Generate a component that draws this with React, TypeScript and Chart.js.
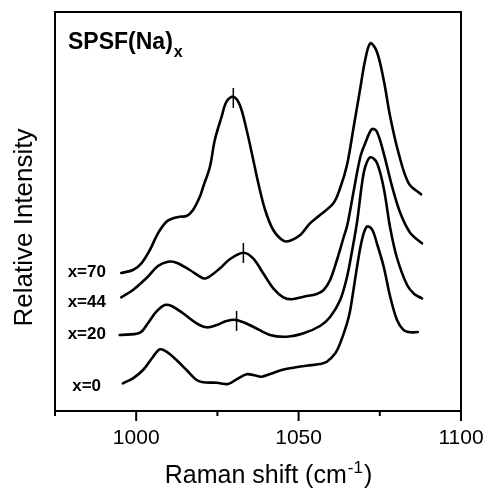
import { useEffect, useRef } from "react";
import { Chart, registerables } from "chart.js";

Chart.register(...registerables);

const FONT = '"Liberation Sans", Arial, Helvetica, sans-serif';

// x axis ticks (Raman shift, cm-1)
const xTicks = [975, 1000, 1025, 1050, 1075, 1100];
const labeledTicks = [1000, 1050, 1100];

// series x=0
const shift0 = [995.9, 999.0, 1002.1, 1005.2, 1007.3, 1009.3, 1012.4, 1015.5, 1018.6, 1020.6, 1024.8, 1028.3, 1030.9, 1034.0, 1036.0, 1038.6, 1041.2, 1044.8, 1048.4, 1052.5, 1056.6, 1058.7, 1061.3, 1062.8, 1064.9, 1065.9, 1068.0, 1069.5, 1071.0, 1072.6, 1074.1, 1076.2, 1078.2, 1080.3, 1082.3, 1084.4, 1086.7];
const int0 = [27.7, 32.7, 41, 54.3, 61.7, 59.3, 51, 41, 31, 28.7, 28.3, 27, 31.7, 36.7, 36, 34.3, 37, 41, 43.3, 45.3, 47, 49.3, 57.7, 67.7, 87.7, 101, 144.3, 171, 184.3, 181.7, 167.7, 144.3, 114.3, 91, 81, 78.7, 79];

// series x=20
const shift20 = [994.9, 1001.1, 1003.6, 1006.2, 1008.8, 1010.9, 1014.4, 1018.6, 1021.7, 1024.8, 1027.8, 1030.9, 1036.0, 1041.2, 1046.4, 1051.5, 1056.6, 1059.7, 1062.8, 1064.9, 1066.4, 1068.0, 1069.5, 1070.5, 1072.1, 1074.1, 1076.2, 1078.2, 1080.3, 1083.4, 1085.6, 1088.0];
const int20 = [76, 78.3, 87.7, 99.3, 106, 105, 97.7, 87.7, 83.7, 86, 90, 91, 84.3, 76, 74.3, 77.7, 85, 94, 111, 134, 159, 189, 227, 244, 253.7, 248.3, 223, 183, 153, 126, 117, 112.7];

// series x=44
const shift44 = [995.4, 999.0, 1003.1, 1006.7, 1009.8, 1012.4, 1016.5, 1020.6, 1022.2, 1025.8, 1028.9, 1033.0, 1036.0, 1039.1, 1042.2, 1045.3, 1047.9, 1051.5, 1055.6, 1057.7, 1059.7, 1061.8, 1063.8, 1065.0, 1066.9, 1069.0, 1070.5, 1072.6, 1074.1, 1076.2, 1078.8, 1081.3, 1084.4, 1088.0];
const int44 = [113.7, 121, 132.7, 145, 149.3, 148.3, 141, 132.7, 133.7, 142.7, 152, 158.3, 152.7, 137.7, 122.7, 113.7, 111.7, 114.3, 117, 121, 131, 151, 173, 186, 219, 254, 267.7, 282, 279.3, 257.7, 224.3, 198, 178, 167.7];

// series x=70
const shift70 = [995.4, 999.0, 1001.6, 1004.2, 1006.7, 1009.3, 1011.4, 1013.4, 1015.5, 1017.5, 1019.6, 1020.6, 1022.7, 1024.2, 1026.3, 1027.8, 1029.9, 1031.9, 1034.0, 1035.6, 1037.6, 1039.7, 1042.2, 1045.3, 1047.4, 1050.5, 1053.5, 1056.6, 1060.7, 1062.8, 1064.9, 1066.9, 1069.0, 1070.5, 1072.1, 1074.1, 1076.2, 1078.2, 1080.8, 1083.9, 1087.7];
const int70 = [138, 141, 147.7, 161, 177.7, 189.3, 192.7, 194.3, 195, 201, 214.3, 224, 244.3, 271, 294.3, 309.3, 314.3, 306, 281, 257.7, 227.7, 201, 181, 170.3, 170.3, 176, 187.7, 196, 207.7, 223, 246, 283, 323, 351, 367.7, 359.3, 331, 294.3, 257.7, 227.7, 216.7];

// peak markers (x=20, x=44, x=70)
const peakShift = [1030.9, 1033.0, 1029.9];
const peakLevel = [90, 158, 313];

// series labels and their anchors
const seriesNames = ["x=0", "x=20", "x=44", "x=70"];
const labelShift = [980.3, 978.9, 978.9, 978.9];
const labelLevel = [20.3, 72, 103.7, 133.7];

const toPoints = (xs: number[], ys: number[]) => xs.map((x, i) => ({ x, y: ys[i] }));

const overlay = {
  id: "overlay",
  afterDraw(chart: any) {
    const { ctx, chartArea: a, scales } = chart;
    const xs = scales.x;
    const ys = scales.y;
    ctx.save();
    ctx.strokeStyle = "#000";
    ctx.lineWidth = 2;
    ctx.strokeRect(a.left, a.top, a.right - a.left, a.bottom - a.top);
    // tick marks below the bottom frame: long for labelled, short for the others
    ctx.beginPath();
    xTicks.forEach((v) => {
      const px = xs.getPixelForValue(v);
      const len = labeledTicks.includes(v) ? 10 : 5;
      ctx.moveTo(px, a.bottom);
      ctx.lineTo(px, a.bottom + len);
    });
    ctx.stroke();

    ctx.fillStyle = "#000";
    ctx.textAlign = "left";
    ctx.textBaseline = "alphabetic";
    // series labels
    ctx.font = `bold 17px ${FONT}`;
    seriesNames.forEach((n, i) => {
      ctx.fillText(n, xs.getPixelForValue(labelShift[i]), ys.getPixelForValue(labelLevel[i]));
    });

    // title SPSF(Na)x
    ctx.font = `bold 23px ${FONT}`;
    const tx = a.left + 13;
    const ty = a.top + 37;
    ctx.fillText("SPSF(Na)", tx, ty);
    const tw = ctx.measureText("SPSF(Na)").width;
    ctx.font = `bold 16px ${FONT}`;
    ctx.fillText("x", tx + tw + 1, ty + 8);

    // x axis title with superscript
    ctx.font = `25px ${FONT}`;
    const xt = "Raman shift (cm";
    const sup = "-1";
    const close = ")";
    const w1 = ctx.measureText(xt).width;
    const w3 = ctx.measureText(close).width;
    ctx.font = `17px ${FONT}`;
    const w2 = ctx.measureText(sup).width;
    const total = w1 + w2 + 2 + w3;
    const cx = 268.5;
    const base = 483;
    const x0 = cx - total / 2;
    ctx.font = `25px ${FONT}`;
    ctx.fillText(xt, x0, base);
    ctx.font = `17px ${FONT}`;
    ctx.fillText(sup, x0 + w1 + 1, base - 10);
    ctx.font = `25px ${FONT}`;
    ctx.fillText(close, x0 + w1 + w2 + 2, base);

    // y axis title
    ctx.translate(a.left - 23, (a.top + a.bottom) / 2 + 16);
    ctx.rotate(-Math.PI / 2);
    ctx.textAlign = "center";
    ctx.font = `26px ${FONT}`;
    ctx.fillText("Relative Intensity", 0, 0);
    ctx.restore();
  },
};

export default function App() {
  const ref = useRef<HTMLCanvasElement | null>(null);
  useEffect(() => {
    if (!ref.current) return;
    const lineStyle = {
      borderColor: "#000",
      borderWidth: 2.6,
      pointRadius: 0,
      tension: 0.35,
      fill: false,
      borderJoinStyle: "round" as const,
      borderCapStyle: "round" as const,
    };
    const chart = new Chart(ref.current, {
      type: "line",
      data: {
        datasets: [
          { label: "x=0", data: toPoints(shift0, int0), ...lineStyle },
          { label: "x=20", data: toPoints(shift20, int20), ...lineStyle },
          { label: "x=44", data: toPoints(shift44, int44), ...lineStyle },
          { label: "x=70", data: toPoints(shift70, int70), ...lineStyle },
          {
            label: "peaks",
            data: toPoints(peakShift, peakLevel),
            showLine: false,
            pointStyle: "line",
            rotation: 90,
            pointRadius: 10,
            pointBorderWidth: 1.5,
            pointBorderColor: "#000",
            borderColor: "#000",
            backgroundColor: "#000",
          } as any,
        ],
      },
      options: {
        responsive: false,
        animation: false,
        layout: { padding: { left: 55, top: 12, right: 28, bottom: 0 } },
        plugins: { legend: { display: false }, tooltip: { enabled: false }, title: { display: false } },
        scales: {
          x: {
            type: "linear",
            min: 975,
            max: 1100,
            afterFit: (s: any) => {
              s.height = 80;
              s.paddingLeft = 0;
              s.paddingRight = 0;
            },
            afterBuildTicks: (s: any) => {
              s.ticks = xTicks.map((v) => ({ value: v }));
            },
            border: { display: false },
            grid: { display: false, drawOnChartArea: false, drawTicks: false },
            ticks: {
              padding: 15,
              color: "#000",
              font: { family: FONT, size: 21 },
              maxRotation: 0,
              autoSkip: false,
              callback: (v: any) => (labeledTicks.includes(Number(v)) ? String(v) : ""),
            },
          },
          y: {
            type: "linear",
            display: false,
            min: 0,
            max: 399,
          },
        },
      },
      plugins: [overlay],
    });
    return () => chart.destroy();
  }, []);
  return (
    <div style={{ position: "fixed", left: 0, top: 0, width: 489, height: 491, background: "#fff" }}>
      <canvas ref={ref} width={489} height={491} style={{ width: 489, height: 491, display: "block" }} />
    </div>
  );
}
